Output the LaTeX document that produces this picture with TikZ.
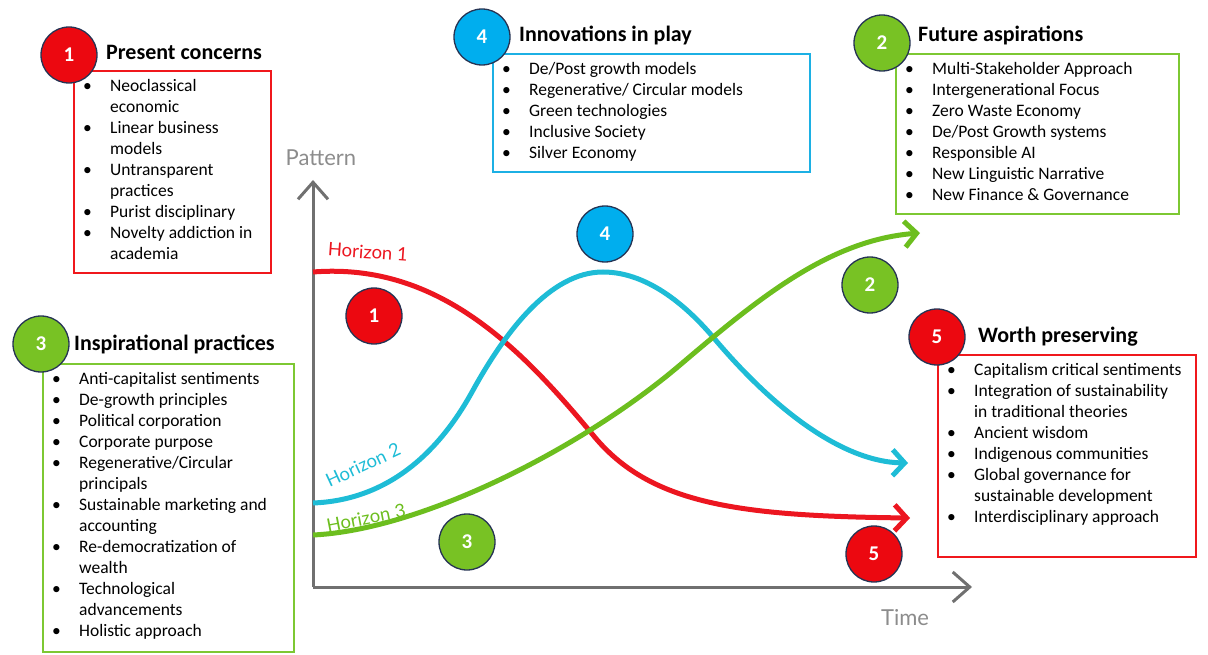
\documentclass[tikz,border=0pt]{standalone}
\usepackage{fontspec}
\setmainfont{Carlito}
\newfontfamily\gillfont{Lato}
\usetikzlibrary{arrows.meta,positioning}

\definecolor{hred}{RGB}{236,22,32}
\definecolor{hcyan}{RGB}{30,188,214}
\definecolor{hgreen}{RGB}{108,190,30}
\definecolor{boxred}{RGB}{240,24,28}
\definecolor{boxgreen}{RGB}{125,200,50}
\definecolor{boxblue}{RGB}{28,176,228}
\definecolor{tagred}{RGB}{236,8,16}
\definecolor{tagblue}{RGB}{0,174,238}
\definecolor{taggreen}{RGB}{120,194,36}
\definecolor{tagline}{RGB}{38,52,84}
\definecolor{axisgray}{RGB}{112,112,112}
\definecolor{labelgray}{RGB}{140,140,140}

% bullet line and continuation line
\newcommand{\itm}{\makebox[27pt][l]{\textbullet}}
\newcommand{\contd}{\hspace*{27pt}}

\tikzset{
  badge/.style={circle, draw=tagline, line width=1.3pt, fill=#1, minimum size=56pt, inner sep=0pt,
    text=white, font=\fontsize{21}{21}\selectfont\bfseries},
  listframe/.style={draw=#1, line width=2pt, anchor=north west, inner sep=0pt},
  listtext/.style={anchor=north west, inner sep=0pt, align=left, font=\fontsize{17.5}{21}\selectfont},
  heading/.style={anchor=west, inner sep=0pt, font=\fontsize{22}{22}\selectfont\bfseries},
  curve/.style={draw=#1, line width=5pt, -{Straight Barb[length=12pt,width=26pt]}},
  axis/.style={draw=axisgray, line width=3pt, -{Straight Barb[length=17pt,width=30pt]}},
  horizon/.style={inner sep=0pt, font=\gillfont\fontsize{18.5}{18.5}\selectfont, text=#1},
}

\begin{document}
\begin{tikzpicture}[x=1pt,y=-1pt]
\useasboundingbox (0,0) rectangle (1208,655);

% axes
\coordinate (origin) at (313,587);
\coordinate (ytip) at (313,180);
\coordinate (xtip) at (972,587);
\draw[axis] (origin) -- (ytip);
\draw[axis] (origin) -- (xtip);
\node[font=\gillfont\fontsize{22}{22}\selectfont, text=labelgray, inner sep=0pt] (pattern) at (321,158) {Pattern};
\node[font=\gillfont\fontsize{22}{22}\selectfont, text=labelgray, inner sep=0pt] (time) at (905,618) {Time};

% horizon curves
\draw[curve=hred] (313,272) .. controls (440,262) and (523,351) .. (593,435)
  .. controls (650,505) and (740,516) .. (910,518);
\draw[curve=hcyan] (313,503) .. controls (390,500) and (440,450) .. (472,392)
  .. controls (505,332) and (550,272) .. (603,272)
  .. controls (650,272) and (690,310) .. (713,337)
  .. controls (770,405) and (840,462) .. (908,463);
\draw[curve=hgreen] (313,535) .. controls (420,530) and (580,450) .. (680,365)
  .. controls (760,297) and (830,240) .. (920,233);

\node[horizon=hred, rotate=-4] (h1) at (368,252) {Horizon 1};
\node[horizon=hcyan, rotate=25] (h2) at (363,465) {Horizon 2};
\node[horizon=hgreen, rotate=11] (h3) at (366,518) {Horizon 3};

% markers on the chart
\node[badge=tagred] (dot1) at (374,316) {1};
\node[badge=tagblue] (dot4) at (605,234) {4};
\node[badge=taggreen] (dot3) at (467,542) {3};
\node[badge=taggreen] (dot2) at (870,285) {2};
\node[badge=tagred] (dot5) at (874,554) {5};

% present concerns
\node[listframe=boxred, minimum width=197pt, minimum height=202pt] (concerns) at (73,70) {};
\node[listtext] (concernslist) at ([shift={(10,9)}]concerns.north west) {%
  \itm Neoclassical\\ \contd economic\\ \itm Linear business\\ \contd models\\
  \itm Untransparent\\ \contd practices\\ \itm Purist disciplinary\\
  \itm Novelty addiction in\\ \contd academia};
\node[badge=tagred] (tag1) at (69,55) {1};
\node[heading] (concernstitle) at (106,52) {Present concerns};

% inspirational practices
\node[listframe=boxgreen, minimum width=251pt, minimum height=288pt] (practices) at (42,363) {};
\node[listtext] (practiceslist) at ([shift={(10,9)}]practices.north west) {%
  \itm Anti-capitalist sentiments\\ \itm De-growth principles\\
  \itm Political corporation\\ \itm Corporate purpose\\
  \itm Regenerative/Circular\\ \contd principals\\
  \itm Sustainable marketing and\\ \contd accounting\\
  \itm Re-democratization of\\ \contd wealth\\
  \itm Technological\\ \contd advancements\\ \itm Holistic approach};
\node[badge=taggreen] (tag3) at (41,344) {3};
\node[heading] (practicestitle) at (74,344) {Inspirational practices};

% innovations in play
\node[listframe=boxblue, minimum width=317pt, minimum height=118pt] (innovations) at (492,53) {};
\node[listtext] (innovationslist) at ([shift={(10,9)}]innovations.north west) {%
  \itm De/Post growth models\\ \itm Regenerative/ Circular models\\
  \itm Green technologies\\ \itm Inclusive Society\\ \itm Silver Economy};
\node[badge=tagblue] (tag4) at (482,37) {4};
\node[heading] (innovationstitle) at (519,35) {Innovations in play};

% future aspirations
\node[listframe=boxgreen, minimum width=283pt, minimum height=160pt] (future) at (895,53) {};
\node[listtext] (futurelist) at ([shift={(10,9)}]future.north west) {%
  \itm Multi-Stakeholder Approach\\ \itm Intergenerational Focus\\
  \itm Zero Waste Economy\\ \itm De/Post Growth systems\\
  \itm Responsible AI\\ \itm New Linguistic Narrative\\
  \itm New Finance \& Governance};
\node[badge=taggreen] (tag2) at (882,43) {2};
\node[heading] (futuretitle) at (918,35) {Future aspirations};

% worth preserving
\node[listframe=boxred, minimum width=258pt, minimum height=202pt] (worth) at (937,354) {};
\node[listtext] (worthlist) at ([shift={(10,9)}]worth.north west) {%
  \itm Capitalism critical sentiments\\ \itm Integration of sustainability\\
  \contd in traditional theories\\ \itm Ancient wisdom\\
  \itm Indigenous communities\\ \itm Global governance for\\
  \contd sustainable development\\ \itm Interdisciplinary approach};
\node[badge=tagred] (tag5) at (937,337) {5};
\node[heading] (worthtitle) at (978,337) {Worth preserving};
\end{tikzpicture}
\end{document}
